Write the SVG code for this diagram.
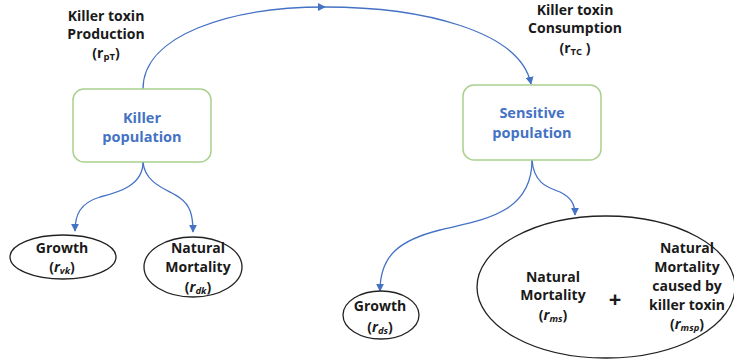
<svg xmlns="http://www.w3.org/2000/svg" width="734" height="363" viewBox="0 0 734 363">
<defs>
<marker id="ah" viewBox="0 0 10 10" refX="9" refY="5" markerWidth="8" markerHeight="8" markerUnits="userSpaceOnUse" orient="auto">
<path d="M0,0 L10,5 L0,10 Z" fill="#4472C4"/>
</marker>
<style>
.t{font-family:"Open Sans","Liberation Sans",sans-serif;font-weight:700;font-size:14px;fill:#1a1a1a;text-anchor:middle}
.b{font-family:"Open Sans","Liberation Sans",sans-serif;font-weight:700;font-size:14.5px;fill:#4472C4;text-anchor:middle}
.box{fill:#fff;stroke:#A9D18E;stroke-width:1.5}
.el{fill:#fff;stroke:#222;stroke-width:1.3}
.c{fill:none;stroke:#4472C4;stroke-width:1.3}
.s{font-size:9.5px}
.i{font-style:italic}
</style>
</defs>
<g id="connectors">
<path class="c" d="M143,89 C143,35 230,7 325,7" marker-end="url(#ah)"/>
<path class="c" d="M325,7 C420,7 520,30 531,84" marker-end="url(#ah)"/>
<path class="c" d="M143,162 C143,185 120,192 100,197 C80,203 75,215 75,231" marker-end="url(#ah)"/>
<path class="c" d="M143,162 C145,185 170,190 180,198 C190,205 193,215 193,232" marker-end="url(#ah)"/>
<path class="c" d="M532,160 C532,215 480,220 440,230 C400,240 380,255 380,291" marker-end="url(#ah)"/>
<path class="c" d="M532,160 C534,185 550,188 560,192 C570,197 575,203 575,215" marker-end="url(#ah)"/>
</g>
<g id="label-production">
<text class="t" x="106" y="21">Killer toxin</text>
<text class="t" x="106" y="39">Production</text>
<text class="t" x="106" y="58">(r<tspan class="s" dy="2">pT</tspan><tspan dy="-2">)</tspan></text>
</g>
<g id="label-consumption">
<text class="t" x="575" y="15">Killer toxin</text>
<text class="t" x="575" y="33">Consumption</text>
<text class="t" x="575" y="53">(r<tspan class="s" dy="2">TC</tspan><tspan dy="-2"> )</tspan></text>
</g>
<g id="killer">
<rect class="box" x="73" y="89" width="138" height="73" rx="11"/>
<text class="b" x="142" y="123">Killer</text>
<text class="b" x="142" y="142">population</text>
</g>
<g id="sensitive">
<rect class="box" x="463" y="85" width="138" height="75" rx="11"/>
<text class="b" x="532" y="118">Sensitive</text>
<text class="b" x="532" y="138">population</text>
</g>
<g id="growth-k">
<ellipse class="el" cx="63" cy="257" rx="53" ry="22"/>
<text class="t" x="62" y="253">Growth</text>
<text class="t" x="62" y="272">(<tspan class="i">r</tspan><tspan class="s i" dy="2">vk</tspan><tspan dy="-2">)</tspan></text>
</g>
<g id="mortality-k">
<ellipse class="el" cx="193" cy="267" rx="49" ry="30"/>
<text class="t" x="198" y="253">Natural</text>
<text class="t" x="198" y="272">Mortality</text>
<text class="t" x="198" y="292">(<tspan class="i">r</tspan><tspan class="s i" dy="2">dk</tspan><tspan dy="-2">)</tspan></text>
</g>
<g id="growth-s">
<ellipse class="el" cx="381" cy="315" rx="38" ry="24"/>
<text class="t" x="380" y="311">Growth</text>
<text class="t" x="380" y="332">(<tspan class="i">r</tspan><tspan class="s i" dy="2">ds</tspan><tspan dy="-2">)</tspan></text>
</g>
<g id="mortality-s">
<ellipse class="el" cx="606" cy="287" rx="129" ry="71"/>
<text class="t" x="553" y="282">Natural</text>
<text class="t" x="553" y="300">Mortality</text>
<text class="t" x="553" y="320">(<tspan class="i">r</tspan><tspan class="s i" dy="2">ms</tspan><tspan dy="-2">)</tspan></text>
<text class="t" x="615" y="307" style="font-size:22px">+</text>
<text class="t" x="687" y="253">Natural</text>
<text class="t" x="687" y="272">Mortality</text>
<text class="t" x="687" y="291">caused by</text>
<text class="t" x="687" y="310">killer toxin</text>
<text class="t" x="687" y="329">(<tspan class="i">r</tspan><tspan class="s i" dy="2">msp</tspan><tspan dy="-2">)</tspan></text>
</g>
</svg>
